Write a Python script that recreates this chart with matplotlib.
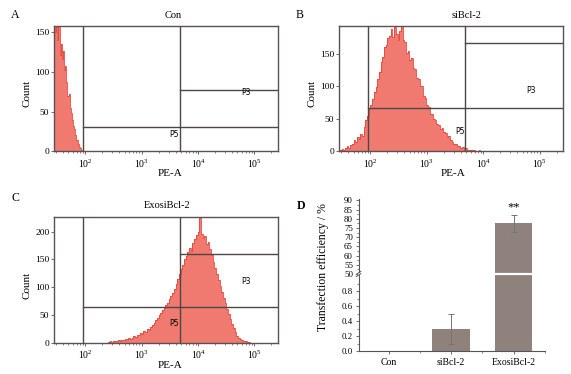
import numpy as np
import matplotlib
matplotlib.use("Agg")
import matplotlib.pyplot as plt
from matplotlib import ticker

plt.rcParams['font.family'] = ['Liberation Serif', 'DejaVu Serif']
plt.rcParams['mathtext.fontset'] = 'stix'

# ---------------- data ----------------
# flow histograms: log10(PE-A) bin start, bin width, counts
a_start, a_step = 1.44, 0.02
a_counts = [165, 150, 175, 140, 168, 122, 135, 116, 126, 102, 108, 88, 70, 72,
            55, 48, 40, 32, 28, 21, 14, 9, 6, 4, 2, 1]

b_start, b_step = 1.40, 0.03
b_counts = [12, 3, 2, 4, 3, 6, 8, 5, 10, 12, 17, 14, 22, 19, 27, 24, 38, 48, 55,
            66, 72, 80, 92, 99, 112, 122, 138, 146, 160, 164, 175, 178, 188, 176,
            192, 181, 172, 186, 193, 172, 168, 152, 155, 140, 144, 128, 127, 113,
            112, 100, 101, 86, 82, 72, 68, 58, 57, 50, 49, 43, 41, 35, 36, 30, 28,
            23, 24, 17, 15, 11, 11, 8, 9, 6, 7, 4, 5, 3, 3, 2, 2, 2, 1, 1, 2, 1,
            0, 1, 0, 1, 0, 0]

c_start, c_step = 2.40, 0.03
c_counts = [1, 2, 1, 2, 3, 2, 4, 3, 5, 4, 6, 5, 8, 7, 9, 11, 10, 14, 13, 17, 16,
            20, 19, 24, 23, 28, 31, 35, 40, 45, 50, 53, 58, 62, 68, 71, 78, 84,
            90, 97, 106, 115, 124, 133, 140, 151, 156, 163, 170, 166, 180, 186,
            194, 200, 224, 195, 188, 192, 178, 182, 168, 158, 145, 135, 124, 112,
            102, 92, 80, 72, 60, 51, 43, 33, 26, 19, 12, 8, 6, 4, 3, 2, 1, 1, 0]

titles = ["Con", "siBcl-2", "ExosiBcl-2"]
ylims = [158, 193, 226]
gate_left = 90
gate_mid = 4800
p3_levels = [78, 167, 160]
p5_levels = [31, 66.5, 63.4]

# transfection efficiency
groups = ["Con", "siBcl-2", "ExosiBcl-2"]
eff_mean = [0.0, 0.3, 77.5]
eff_err = [0.0, 0.2, 4.8]

# ---------------- figure ----------------
W, H = 571, 374
fig = plt.figure(figsize=(W / 100, H / 100), dpi=100)

def box(l, t, r, b):
    return [l / W, 1 - b / H, (r - l) / W, (b - t) / H]

hist_fill = '#f07a70'
hist_edge = '#e8453a'
gate_col = '#4d4646'
frame_col = '#5a5252'

hist_axes = [
    fig.add_axes(box(54.3, 26, 278, 151.5)),
    fig.add_axes(box(339.3, 26, 563.3, 151.5)),
    fig.add_axes(box(54.3, 217.3, 278, 342.5)),
]
starts = [a_start, b_start, c_start]
steps = [a_step, b_step, c_step]
counts = [a_counts, b_counts, c_counts]

for i, ax in enumerate(hist_axes):
    cnt = np.array(counts[i], dtype=float)
    edges = 10 ** (starts[i] + steps[i] * np.arange(len(cnt) + 1))
    ax.stairs(cnt, edges, fill=True, facecolor=hist_fill, edgecolor='none', zorder=1)
    ax.stairs(cnt, edges, fill=False, color=hist_edge, lw=0.6, zorder=2)
    ax.set_xscale('log')
    ax.set_xlim(28, 262143)
    ax.set_ylim(0, ylims[i])
    # gates
    ax.axvline(gate_left, color=gate_col, lw=1.0, zorder=3)
    ax.axvline(gate_mid, color=gate_col, lw=1.0, zorder=3)
    ax.plot([gate_mid, 262143], [p3_levels[i]] * 2, color=gate_col, lw=1.0, zorder=3)
    ax.plot([gate_left, 262143], [p5_levels[i]] * 2, color=gate_col, lw=1.0, zorder=3)
    ax.text(7.0e4, p3_levels[i] - 4 if i == 0 else (94 if i == 1 else 110), 'P3',
            family='DejaVu Sans', fontsize=5.5, ha='center', va='center', zorder=4)
    ax.text(3.8e3, [22, 31, 35][i], 'P5', family='DejaVu Sans', fontsize=5.5,
            ha='center', va='center', zorder=4)
    for s in ax.spines.values():
        s.set_color(frame_col)
        s.set_linewidth(1.0)
    ax.xaxis.set_major_locator(ticker.FixedLocator([1e2, 1e3, 1e4, 1e5]))
    ax.xaxis.set_major_formatter(ticker.LogFormatterMathtext())
    ax.xaxis.set_minor_locator(ticker.LogLocator(base=10, subs=np.arange(2, 10)))
    ax.xaxis.set_minor_formatter(ticker.NullFormatter())
    ax.yaxis.set_major_locator(ticker.MultipleLocator(50))
    ax.tick_params(axis='x', which='major', length=2.5, width=0.6, labelsize=7,
                   pad=2, colors=frame_col, labelcolor='black')
    ax.tick_params(axis='x', which='minor', length=1.5, width=0.5, colors=frame_col)
    ax.tick_params(axis='y', which='major', length=2, width=0.6, labelsize=6.8,
                   pad=1.5, colors=frame_col, labelcolor='black')

# titles, labels
title_pos = [(173, 15), (467, 15), (167, 206)]
for (x, y), t in zip(title_pos, titles):
    fig.text(x / W, 1 - y / H, t, fontsize=7.5, ha='center', va='center')
for (x, y) in [(170, 173), (453, 173), (170, 365)]:
    fig.text(x / W, 1 - y / H, 'PE-A', fontsize=8, ha='center', va='center')
for (x, y) in [(26.7, 93), (312.3, 93), (26.7, 285)]:
    fig.text(x / W, 1 - y / H, 'Count', fontsize=8, ha='center', va='center',
             rotation=90)
for (x, y), t in zip([(15, 15), (300, 15), (15, 198), (300.7, 205.7)],
                     ['A', 'B', 'C', 'D']):
    fig.text(x / W, 1 - y / H, t, fontsize=8.5, ha='center', va='center',
             fontweight='bold' if t == 'D' else 'normal')

# ---------------- panel D (broken axis) ----------------
bar_col = '#8f827c'
err_col = '#7a7272'
axL = fig.add_axes(box(358.5, 274, 545, 351))
axU = fig.add_axes(box(358.5, 199, 545, 274))
xpos = np.arange(len(groups))
for ax in (axL, axU):
    ax.bar(xpos, eff_mean, width=0.6, color=bar_col, zorder=2)
    ax.errorbar(xpos[1:], eff_mean[1:], yerr=eff_err[1:], fmt='none',
                ecolor=err_col, elinewidth=0.7, capsize=2, capthick=0.7, zorder=3)
    ax.set_xlim(-0.48, 2.5)
    for side in ('top', 'right'):
        ax.spines[side].set_visible(False)
    ax.spines['left'].set_color('#555')
    ax.spines['left'].set_linewidth(0.8)
    ax.spines['bottom'].set_color('#555')
    ax.spines['bottom'].set_linewidth(0.8)
    ax.set_facecolor('none')

axL.set_ylim(0, 1.03)
axU.set_ylim(50, 90.8)
axU.spines['bottom'].set_visible(False)
axU.tick_params(axis='x', which='both', bottom=False, labelbottom=False)

axL.yaxis.set_major_locator(ticker.FixedLocator([0, 0.2, 0.4, 0.6, 0.8]))
axL.yaxis.set_major_formatter(ticker.FormatStrFormatter('%.1f'))
axL.yaxis.set_minor_locator(ticker.FixedLocator([0.1, 0.3, 0.5, 0.7, 0.9]))
axU.yaxis.set_major_locator(ticker.MultipleLocator(5))
axU.yaxis.set_minor_locator(ticker.MultipleLocator(2.5))
for ax in (axL, axU):
    ax.tick_params(axis='y', which='major', length=2.5, width=0.6, labelsize=6.3,
                   pad=1.5, colors='#555', labelcolor='black')
    ax.tick_params(axis='y', which='minor', length=1.5, width=0.5, colors='#555')

axL.set_xticks(xpos)
axL.set_xticklabels(groups)
axL.xaxis.set_minor_locator(ticker.FixedLocator([0.5, 1.5, 2.5]))
axL.tick_params(axis='x', which='major', length=2, width=0.6, labelsize=7,
                pad=3, colors='#555', labelcolor='black')
axL.tick_params(axis='x', which='minor', length=1.5, width=0.5, colors='#555')

# white gap across the bar at the break, and break marks on the spine
axU.plot([-0.48, 2.5], [50, 50], color='white', lw=1.6, clip_on=False, zorder=5)
trans = axU.get_yaxis_transform()
for dy in (-0.6, 0.6):
    axU.plot([-0.012, 0.012], [50 + dy - 0.8, 50 + dy + 0.8], transform=trans,
             color='#555', lw=0.7, clip_on=False, zorder=6)

axU.text(2, 86.2, '**', fontsize=9, ha='center', va='center')
fig.text(323 / W, 1 - 267 / H, 'Transfection efficiency / %', fontsize=8.5,
         rotation=90, ha='center', va='center')

fig.savefig('out.png', dpi=100)
